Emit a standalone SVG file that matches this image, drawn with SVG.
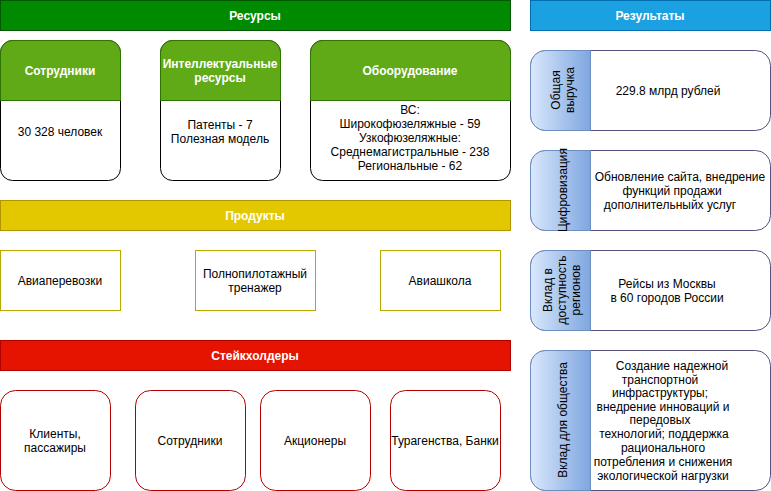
<svg xmlns="http://www.w3.org/2000/svg" width="771" height="491" viewBox="0 0 771 491">
<style>
text{font-family:"Liberation Sans",Arial,sans-serif;font-size:12px;fill:#000;text-anchor:middle;dominant-baseline:central}
.hd{fill:#fff;font-weight:bold}
.card{fill:#fff;stroke:#000;stroke-width:1}
.ghead{fill:#60a917;stroke:#2d7600;stroke-width:1}
.res{fill:#fff;stroke:#56517e;stroke-width:1}
.blue{fill:url(#bg);stroke:#6c8ebf;stroke-width:1}
.prod{fill:#fff;stroke:#b8a900;stroke-width:1}
.stk{fill:#fff;stroke:#b20000;stroke-width:1}
</style>
<defs>
<linearGradient id="bg" x1="0" y1="0" x2="1" y2="0">
<stop offset="0" stop-color="#dae8fc"/>
<stop offset="1" stop-color="#7ea6e0"/>
</linearGradient>
</defs>
<rect width="771" height="491" fill="#fff"/>
<g id="connectors"></g>

<g id="resources-header">
<rect x="0.5" y="0.5" width="510" height="30" fill="#008a00" stroke="#005700"/>
<text class="hd" x="255" y="16">Ресурсы</text>
</g>
<g id="res-employees">
<rect class="card" x="0.5" y="40.5" width="120" height="140" rx="12"/>
<path class="ghead" d="M0.5 100.5 V52.5 A12 12 0 0 1 12.5 40.5 H108.5 A12 12 0 0 1 120.5 52.5 V100.5 Z"/>
<text class="hd" x="60" y="71">Сотрудники</text>
<text x="60" y="132">30 328 человек</text>
</g>
<g id="res-intellectual">
<rect class="card" x="160.5" y="40.5" width="120" height="140" rx="12"/>
<path class="ghead" d="M160.5 100.5 V52.5 A12 12 0 0 1 172.5 40.5 H268.5 A12 12 0 0 1 280.5 52.5 V100.5 Z"/>
<text class="hd" x="220" y="64">Интеллектуальные</text>
<text class="hd" x="220" y="78">ресурсы</text>
<text x="220" y="125">Патенты - 7</text>
<text x="220" y="139">Полезная модель</text>
</g>
<g id="res-equipment">
<rect class="card" x="310.5" y="40.5" width="200" height="140" rx="12"/>
<path class="ghead" d="M310.5 100.5 V52.5 A12 12 0 0 1 322.5 40.5 H498.5 A12 12 0 0 1 510.5 52.5 V100.5 Z"/>
<text class="hd" x="410" y="71">Обоорудование</text>
<text x="410" y="110">ВС:</text>
<text x="410" y="124">Широкофюзеляжные - 59</text>
<text x="410" y="138">Узкофюзеляжные:</text>
<text x="410" y="152">Среднемагистральные - 238</text>
<text x="410" y="166">Региональные - 62</text>
</g>

<g id="products-header">
<rect x="0.5" y="200.5" width="510" height="30" fill="#e3c800" stroke="#b09500"/>
<text class="hd" x="255" y="216">Продукты</text>
</g>
<g id="prod-air">
<rect class="prod" x="0.5" y="250.5" width="120" height="60"/>
<text x="60" y="281">Авиаперевозки</text>
</g>
<g id="prod-sim">
<rect class="prod" x="195.5" y="250.5" width="120" height="60"/>
<text x="255" y="274">Полнопилотажный</text>
<text x="255" y="288">тренажер</text>
</g>
<g id="prod-school">
<rect class="prod" x="380.5" y="250.5" width="120" height="60"/>
<text x="440" y="281">Авиашкола</text>
</g>

<g id="stakeholders-header">
<rect x="0.5" y="340.5" width="510" height="30" fill="#e51400" stroke="#b20000"/>
<text class="hd" x="255" y="356">Стейкхолдеры</text>
</g>
<g id="stk-clients">
<rect class="stk" x="0.5" y="390.5" width="110" height="100" rx="15"/>
<text x="55" y="434">Клиенты,</text>
<text x="55" y="448">пассажиры</text>
</g>
<g id="stk-employees">
<rect class="stk" x="135.5" y="390.5" width="110" height="100" rx="15"/>
<text x="190" y="441">Сотрудники</text>
</g>
<g id="stk-shareholders">
<rect class="stk" x="260.5" y="390.5" width="110" height="100" rx="15"/>
<text x="315" y="441">Акционеры</text>
</g>
<g id="stk-agencies">
<rect class="stk" x="390.5" y="390.5" width="110" height="100" rx="15"/>
<text x="445" y="441">Турагенства, Банки</text>
</g>

<g id="results-header">
<rect x="530.5" y="0.5" width="240" height="30" fill="#1ba1e2" stroke="#006eaf"/>
<text class="hd" x="650" y="16">Результаты</text>
</g>
<g id="result-revenue">
<rect class="res" x="530.5" y="50.5" width="240" height="80" rx="15"/>
<path class="blue" d="M590.5 50.5 H545.5 A15 15 0 0 0 530.5 65.5 V115.5 A15 15 0 0 0 545.5 130.5 H590.5 Z"/>
<text transform="translate(556,90) rotate(-90)">Общая</text>
<text transform="translate(570,90) rotate(-90)">выручка</text>
<text x="668" y="91">229.8 млрд рублей</text>
</g>
<g id="result-digital">
<rect class="res" x="530.5" y="150.5" width="240" height="80" rx="15"/>
<path class="blue" d="M590.5 150.5 H545.5 A15 15 0 0 0 530.5 165.5 V215.5 A15 15 0 0 0 545.5 230.5 H590.5 Z"/>
<text transform="translate(563,190) rotate(-90)">Цифровизация</text>
<text x="680" y="177">Обновление сайта, внедрение</text>
<text x="672" y="191">функций продажи</text>
<text x="670" y="205">дополнительныйх услуг</text>
</g>
<g id="result-regions">
<rect class="res" x="530.5" y="250.5" width="240" height="80" rx="15"/>
<path class="blue" d="M590.5 250.5 H545.5 A15 15 0 0 0 530.5 265.5 V315.5 A15 15 0 0 0 545.5 330.5 H590.5 Z"/>
<text transform="translate(548,290) rotate(-90)">Вклад в</text>
<text transform="translate(562,290) rotate(-90)">доступность</text>
<text transform="translate(576,290) rotate(-90)">регионов</text>
<text x="667" y="284">Рейсы из Москвы</text>
<text x="667" y="298">в 60 городов России</text>
</g>
<g id="result-society">
<rect class="res" x="530.5" y="350.5" width="240" height="140" rx="15"/>
<path class="blue" d="M590.5 350.5 H545.5 A15 15 0 0 0 530.5 365.5 V475.5 A15 15 0 0 0 545.5 490.5 H590.5 Z"/>
<text transform="translate(563,420) rotate(-90)">Вклад для общества</text>
<text x="672" y="366">Создание надежной</text>
<text x="660" y="380">транспортной</text>
<text x="660" y="393">инфраструктуры;</text>
<text x="663" y="407">внедрение инноваций и</text>
<text x="660" y="420">передовых</text>
<text x="664" y="434">технологий; поддержка</text>
<text x="663" y="448">рационального</text>
<text x="663" y="462">потребления и снижения</text>
<text x="663" y="476">экологической нагрузки</text>
</g>
</svg>
